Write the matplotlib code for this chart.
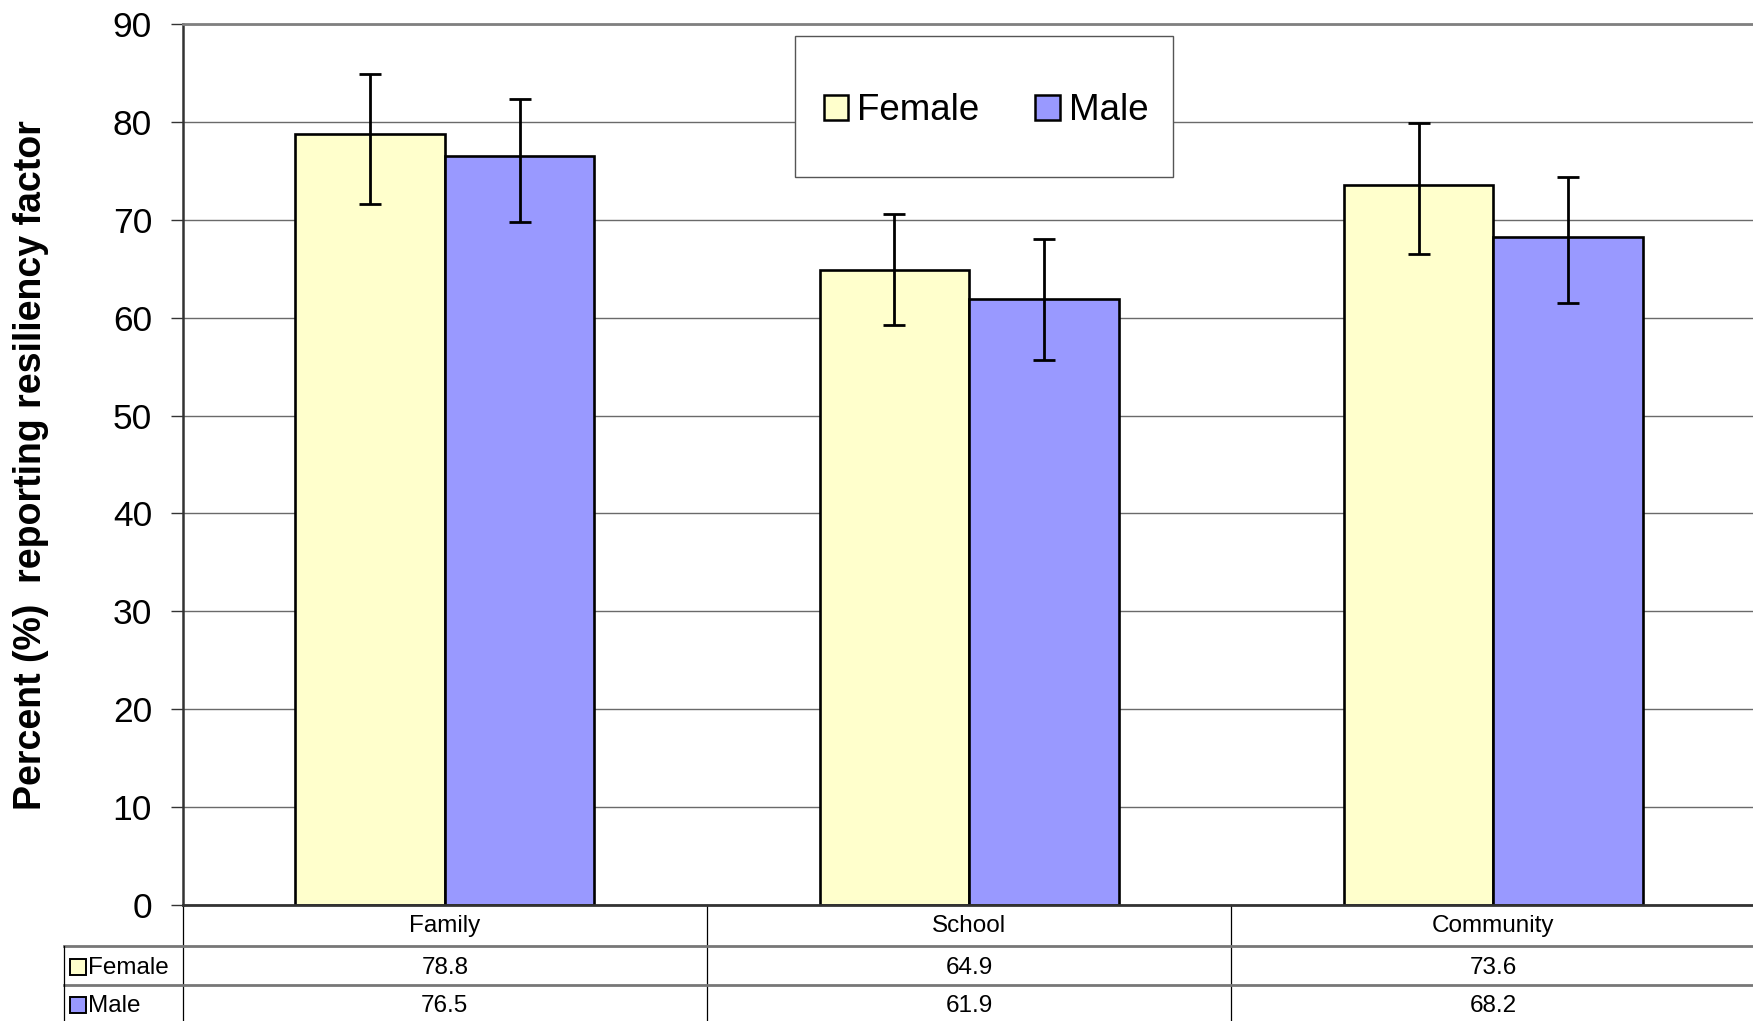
import matplotlib
matplotlib.use("Agg")
import matplotlib.pyplot as plt
from matplotlib.patches import Patch, Rectangle
from matplotlib.lines import Line2D
import numpy as np

plt.rcParams['font.family'] = ['Liberation Sans', 'DejaVu Sans']

categories = ["Family", "School", "Community"]
series = ["Female", "Male"]
female = [78.8, 64.9, 73.6]
male = [76.5, 61.9, 68.2]
female_lo = [71.6, 59.2, 66.5]
female_hi = [84.9, 70.6, 79.9]
male_lo = [69.8, 55.7, 61.5]
male_hi = [82.3, 68.0, 74.4]
female_labels = ["78.8", "64.9", "73.6"]
male_labels = ["76.5", "61.9", "68.2"]
yticks = [0, 10, 20, 30, 40, 50, 60, 70, 80, 90]

FEMALE_C = '#FFFFCC'
MALE_C = '#9999FF'

W, H = 1753, 1021
fig = plt.figure(figsize=(W / 100, H / 100), dpi=100)
ax_left, ax_right, ax_top, ax_bot = 182.7, 1755.6, 24, 905
ax = fig.add_axes([ax_left / W, 1 - ax_bot / H, (ax_right - ax_left) / W, (ax_bot - ax_top) / H])

x = np.arange(len(categories))
w = 0.285
f = np.array(female); m = np.array(male)
ax.bar(x - w / 2, f, w, color=FEMALE_C, edgecolor='black', linewidth=1.9, zorder=2)
ax.bar(x + w / 2, m, w, color=MALE_C, edgecolor='black', linewidth=1.9, zorder=2)
ax.errorbar(x - w / 2, f, yerr=[f - np.array(female_lo), np.array(female_hi) - f],
            fmt='none', ecolor='black', elinewidth=2.0, capsize=8, capthick=2.0, zorder=3)
ax.errorbar(x + w / 2, m, yerr=[m - np.array(male_lo), np.array(male_hi) - m],
            fmt='none', ecolor='black', elinewidth=2.0, capsize=8, capthick=2.0, zorder=3)

ax.set_xlim(-0.5, len(categories) - 0.5)
ax.set_ylim(0, 90)
ax.set_yticks(yticks)
ax.set_yticklabels([str(t) for t in yticks], fontsize=25.5)
ax.tick_params(axis='y', direction='out', length=8.6, width=1.0, pad=13.5, color='#333333')
ax.set_xticks([])
ax.yaxis.grid(True, color='#6a6a6a', linewidth=1.0, zorder=0)
ax.set_axisbelow(True)
ax.spines['right'].set_visible(False)
ax.spines['top'].set_color('#808080'); ax.spines['top'].set_linewidth(2.0)
ax.spines['left'].set_color('#333333'); ax.spines['left'].set_linewidth(1.8)
ax.spines['bottom'].set_color('#333333'); ax.spines['bottom'].set_linewidth(2.0)

# y label
fig.text(31 / W, 1 - 465 / H, "Percent (%)  reporting resiliency factor", rotation=90,
         ha='center', va='center', fontsize=27, fontweight='bold')

# legend
frame = Rectangle((795 / W, 1 - 177 / H), (1173 - 795) / W, (177 - 36) / H,
                  transform=fig.transFigure, facecolor='white', edgecolor='#555555',
                  linewidth=1.0, zorder=4)
fig.patches.append(frame)
handles = [Patch(facecolor=FEMALE_C, edgecolor='black', linewidth=1.8),
           Patch(facecolor=MALE_C, edgecolor='black', linewidth=1.8)]
fig.legend(handles, series, loc='center', bbox_to_anchor=(986 / W, 1 - 111 / H), ncol=2,
           frameon=False, fontsize=26.5, handlelength=0.67, handleheight=0.67,
           handletextpad=0.25, columnspacing=1.5, borderpad=0)

# data table below the axes
xt = ax.get_xaxis_transform()
def ay(py):
    return (ax_bot - py) / (ax_bot - ax_top)

y_row1, y_row2, y_end = 946, 985, 1021
for b in np.arange(len(categories) + 1) - 0.5:
    ax.add_line(Line2D([b, b], [0, ay(y_end + 5)], transform=xt, color='black',
                       linewidth=0.9, clip_on=False))
for py in [y_row1, y_row2]:
    fig.add_artist(Line2D([64 / W, 1.0], [1 - py / H, 1 - py / H], transform=fig.transFigure,
                          color='#777777', linewidth=2.0))
fig.add_artist(Line2D([64 / W, 64 / W], [1 - y_row1 / H, 0], transform=fig.transFigure,
                      color='black', linewidth=0.9))

TFS = 17.5
for i, c in enumerate(categories):
    ax.text(i, ay(926), c, transform=xt, ha='center', va='center', fontsize=TFS, clip_on=False)
    ax.text(i, ay(968), female_labels[i], transform=xt, ha='center', va='center', fontsize=TFS, clip_on=False)
    ax.text(i, ay(1006), male_labels[i], transform=xt, ha='center', va='center', fontsize=TFS, clip_on=False)

for lab, col, cy in [(series[0], FEMALE_C, 967), (series[1], MALE_C, 1005)]:
    fig.patches.append(Rectangle((70 / W, 1 - (cy + 8) / H), 16 / W, 16 / H,
                                 transform=fig.transFigure, facecolor=col,
                                 edgecolor='black', linewidth=1.4, zorder=4))
    fig.text(88 / W, 1 - (cy + 1) / H, lab, ha='left', va='center', fontsize=TFS)

fig.savefig("out.png", dpi=100)
